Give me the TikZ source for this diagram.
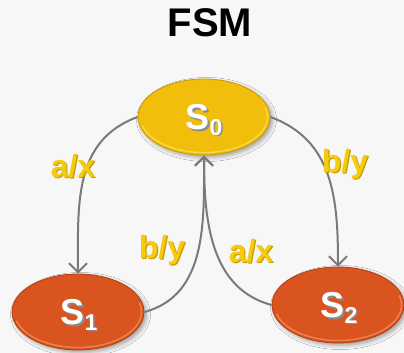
\documentclass[tikz,border=0pt]{standalone}
\usepackage{fontspec}
\setmainfont{Liberation Sans}
\usetikzlibrary{shapes.geometric,arrows.meta,shadows.blur}

\definecolor{bgcol}{HTML}{F7F7F7}
\definecolor{goldfill}{HTML}{F1BE0B}
\definecolor{goldrim}{HTML}{FBE15A}
\definecolor{goldedge}{HTML}{C99A05}
\definecolor{rustfill}{HTML}{D9541E}
\definecolor{rustrim}{HTML}{F59263}
\definecolor{rustedge}{HTML}{B03E10}
\definecolor{wirecol}{HTML}{7A7A7A}
\definecolor{labfill}{HTML}{F5CB12}
\definecolor{labedge}{HTML}{C89B00}

\tikzset{
  statebox/.style={ellipse, minimum width=132pt, minimum height=76pt,
    inner sep=0pt, line width=0.8pt,
    blur shadow={shadow xshift=2.5pt, shadow yshift=-2.5pt,
      shadow blur radius=4pt, shadow opacity=35}},
  goldstate/.style={statebox, fill=goldfill, draw=goldedge},
  ruststate/.style={statebox, fill=rustfill, draw=rustedge},
  rimline/.style={line width=1.4pt, opacity=0.75, line cap=round},
  wire/.style={draw=wirecol, line width=2pt,
    -{Straight Barb[length=9pt,width=18pt,line width=2pt]}},
  labtxt/.style={font=\fontsize{32}{32}\bfseries, text=labfill, inner sep=0pt},
  labshade/.style={font=\fontsize{32}{32}\bfseries, text=labedge, inner sep=0pt},
  nametxt/.style={font=\fontsize{36}{36}\bfseries, text=white, inner sep=0pt},
  nameshade/.style={font=\fontsize{36}{36}\bfseries, text=black!45, inner sep=0pt}
}
\newcommand{\statename}[1]{S\raisebox{-0.3ex}{\fontsize{23}{23}\selectfont #1}}

\begin{document}
\begin{tikzpicture}[x=1pt,y=1pt]
  \fill[bgcol] (0,0) rectangle (404,353);
  \useasboundingbox (0,0) rectangle (404,353);

  % title
  \node[font=\fontsize{40}{40}\bfseries, inner sep=0pt] (title) at (210,330) {FSM};

  % states
  \node[goldstate] (s0) at (204,236) {};
  \node[ruststate] (s1) at (78,41) {};
  \node[ruststate] (s2) at (338,48) {};

  % bevel highlights along the lower right of each state
  \draw[goldrim, rimline] (204,236) ++(195:63.5pt and 35.5pt) arc [start angle=195, end angle=375, x radius=63.5pt, y radius=35.5pt];
  \draw[rustrim, rimline] (78,41) ++(195:63.5pt and 35.5pt) arc [start angle=195, end angle=375, x radius=63.5pt, y radius=35.5pt];
  \draw[rustrim, rimline] (338,48) ++(195:63.5pt and 35.5pt) arc [start angle=195, end angle=375, x radius=63.5pt, y radius=35.5pt];

  % state names
  \node[nameshade] (n0s) at (205.5,231.5) {\statename{0}};
  \node[nametxt] (n0) at (204,233) {\statename{0}};
  \node[nameshade] (n1s) at (80.5,36.5) {\statename{1}};
  \node[nametxt] (n1) at (79,38) {\statename{1}};
  \node[nameshade] (n2s) at (340.5,43.5) {\statename{2}};
  \node[nametxt] (n2) at (339,45) {\statename{2}};

  % transitions
  \draw[wire] (s0.west) to[out=200, in=90, looseness=1.05] (s1.north);
  \draw[wire] (s0.east) to[out=-20, in=90, looseness=1.05] (s2.north);
  \draw[wire] (s1.east) to[out=15, in=-90, looseness=1.0] (s0.south);
  \draw[wire] (s2.west) to[out=165, in=-90, looseness=1.0] (s0.south);

  % transition labels
  \node[labshade] (l1s) at (74.2,185.8) {a/x};
  \node[labtxt] (l1) at (73,187) {a/x};
  \node[labshade] (l2s) at (346.2,187.8) {b/y};
  \node[labtxt] (l2) at (345,189) {b/y};
  \node[labshade] (l3s) at (163.2,101.8) {b/y};
  \node[labtxt] (l3) at (162,103) {b/y};
  \node[labshade] (l4s) at (252.2,100.8) {a/x};
  \node[labtxt] (l4) at (251,102) {a/x};
\end{tikzpicture}
\end{document}
